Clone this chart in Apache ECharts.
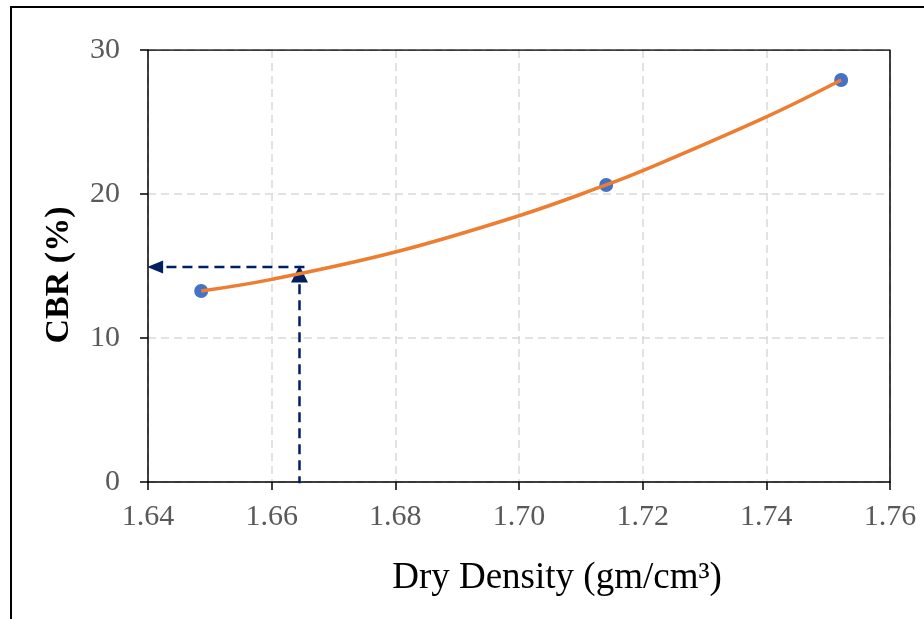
<!DOCTYPE html>
<html>
<head>
<meta charset="utf-8">
<script src="https://cdn.jsdelivr.net/npm/echarts@6/dist/echarts.min.js"></script>
<style>
  html, body { margin: 0; padding: 0; background: #fff; }
  #chart { width: 924px; height: 619px; }
</style>
</head>
<body>
<div id="chart"></div>
<script>
    // measured points (dry density, CBR)
    var testPoints = [[1.6486, 13.26], [1.7141, 20.63], [1.7521, 27.92]];
    // trend curve
    var trendCurve = [[1.6486, 13.26], [1.66, 14.07], [1.68, 15.97], [1.70, 18.49],
                      [1.7141, 20.63], [1.72, 21.62], [1.74, 25.36], [1.7521, 27.92]];
    // reading arrows
    var readX = 1.6645;
    var readY = 14.93;
    var upArrow = [[readX, -0.3], [readX, 14.45]];
    var leftArrow = [[readX + 0.0008, readY], [1.64115, readY]];

    var serif = '"Liberation Serif", "Times New Roman", serif';
    var chart = echarts.init(document.getElementById('chart'));

    var option = {
        animation: false,
        backgroundColor: '#fff',
        grid: { left: 148, right: 34, top: 50, bottom: 137 },
        graphic: [{
            type: 'rect',
            shape: { x: 11, y: 7, width: 960, height: 660 },
            style: { fill: 'none', stroke: '#000', lineWidth: 2 },
            silent: true
        }],
        xAxis: {
            type: 'value',
            min: 1.64,
            max: 1.76,
            interval: 0.02,
            name: 'Dry Density (gm/cm³)',
            nameLocation: 'middle',
            nameGap: 78,
            nameTextStyle: { fontFamily: serif, fontSize: 37, color: '#000', padding: [0, 0, 0, 76] },
            axisLine: { lineStyle: { color: '#000', width: 1.5 } },
            axisTick: { show: true, length: 8, lineStyle: { color: '#000', width: 1.5 } },
            axisLabel: {
                margin: 20, fontFamily: serif, fontSize: 30, color: '#595959',
                formatter: function (v) { return v.toFixed(2); }
            },
            splitLine: { show: true, lineStyle: { color: '#d9d9d9', width: 1.5, type: [8, 5] } }
        },
        yAxis: {
            type: 'value',
            min: 0,
            max: 30,
            interval: 10,
            name: 'CBR (%)',
            nameLocation: 'middle',
            nameGap: 72,
            nameTextStyle: { fontFamily: serif, fontSize: 34, fontWeight: 'bold', color: '#000', padding: [0, 18, 0, 0] },
            axisLine: { show: true, lineStyle: { color: '#000', width: 1.5 } },
            axisTick: { show: true, length: 8, lineStyle: { color: '#000', width: 1.5 } },
            axisLabel: { margin: 28, fontFamily: serif, fontSize: 30, color: '#595959' },
            splitLine: { show: true, lineStyle: { color: '#d9d9d9', width: 1.5, type: [8, 5] } }
        },
        series: [{
            // box around plot area: right and top edges
            type: 'line',
            data: [[1.64, 30], [1.76, 30], [1.76, 0]],
            symbol: 'none',
            lineStyle: { color: '#000', width: 1.5 },
            z: 1,
            silent: true
        }, {
            type: 'line',
            data: upArrow.map(function (p, i) {
                return i === upArrow.length - 1
                    ? { value: p, symbol: 'triangle', symbolSize: [17, 17] }
                    : { value: p };
            }),
            symbol: 'none',
            itemStyle: { color: '#002060' },
            lineStyle: { color: '#002060', width: 2.5, type: [10, 6] },
            z: 3
        }, {
            type: 'line',
            data: leftArrow.map(function (p, i) {
                return i === leftArrow.length - 1
                    ? { value: p, symbol: 'triangle', symbolSize: [13, 16], symbolRotate: 90 }
                    : { value: p };
            }),
            symbol: 'none',
            itemStyle: { color: '#002060' },
            lineStyle: { color: '#002060', width: 2.5, type: [10, 6] },
            z: 3
        }, {
            type: 'scatter',
            data: testPoints,
            symbolSize: 14,
            itemStyle: { color: '#4472C4', opacity: 1 },
            z: 4
        }, {
            type: 'line',
            data: trendCurve,
            smooth: 0.4,
            symbol: 'none',
            lineStyle: { color: '#ED7D31', width: 3.5 },
            z: 5
        }]
    };

    chart.setOption(option);
</script>
</body>
</html>
